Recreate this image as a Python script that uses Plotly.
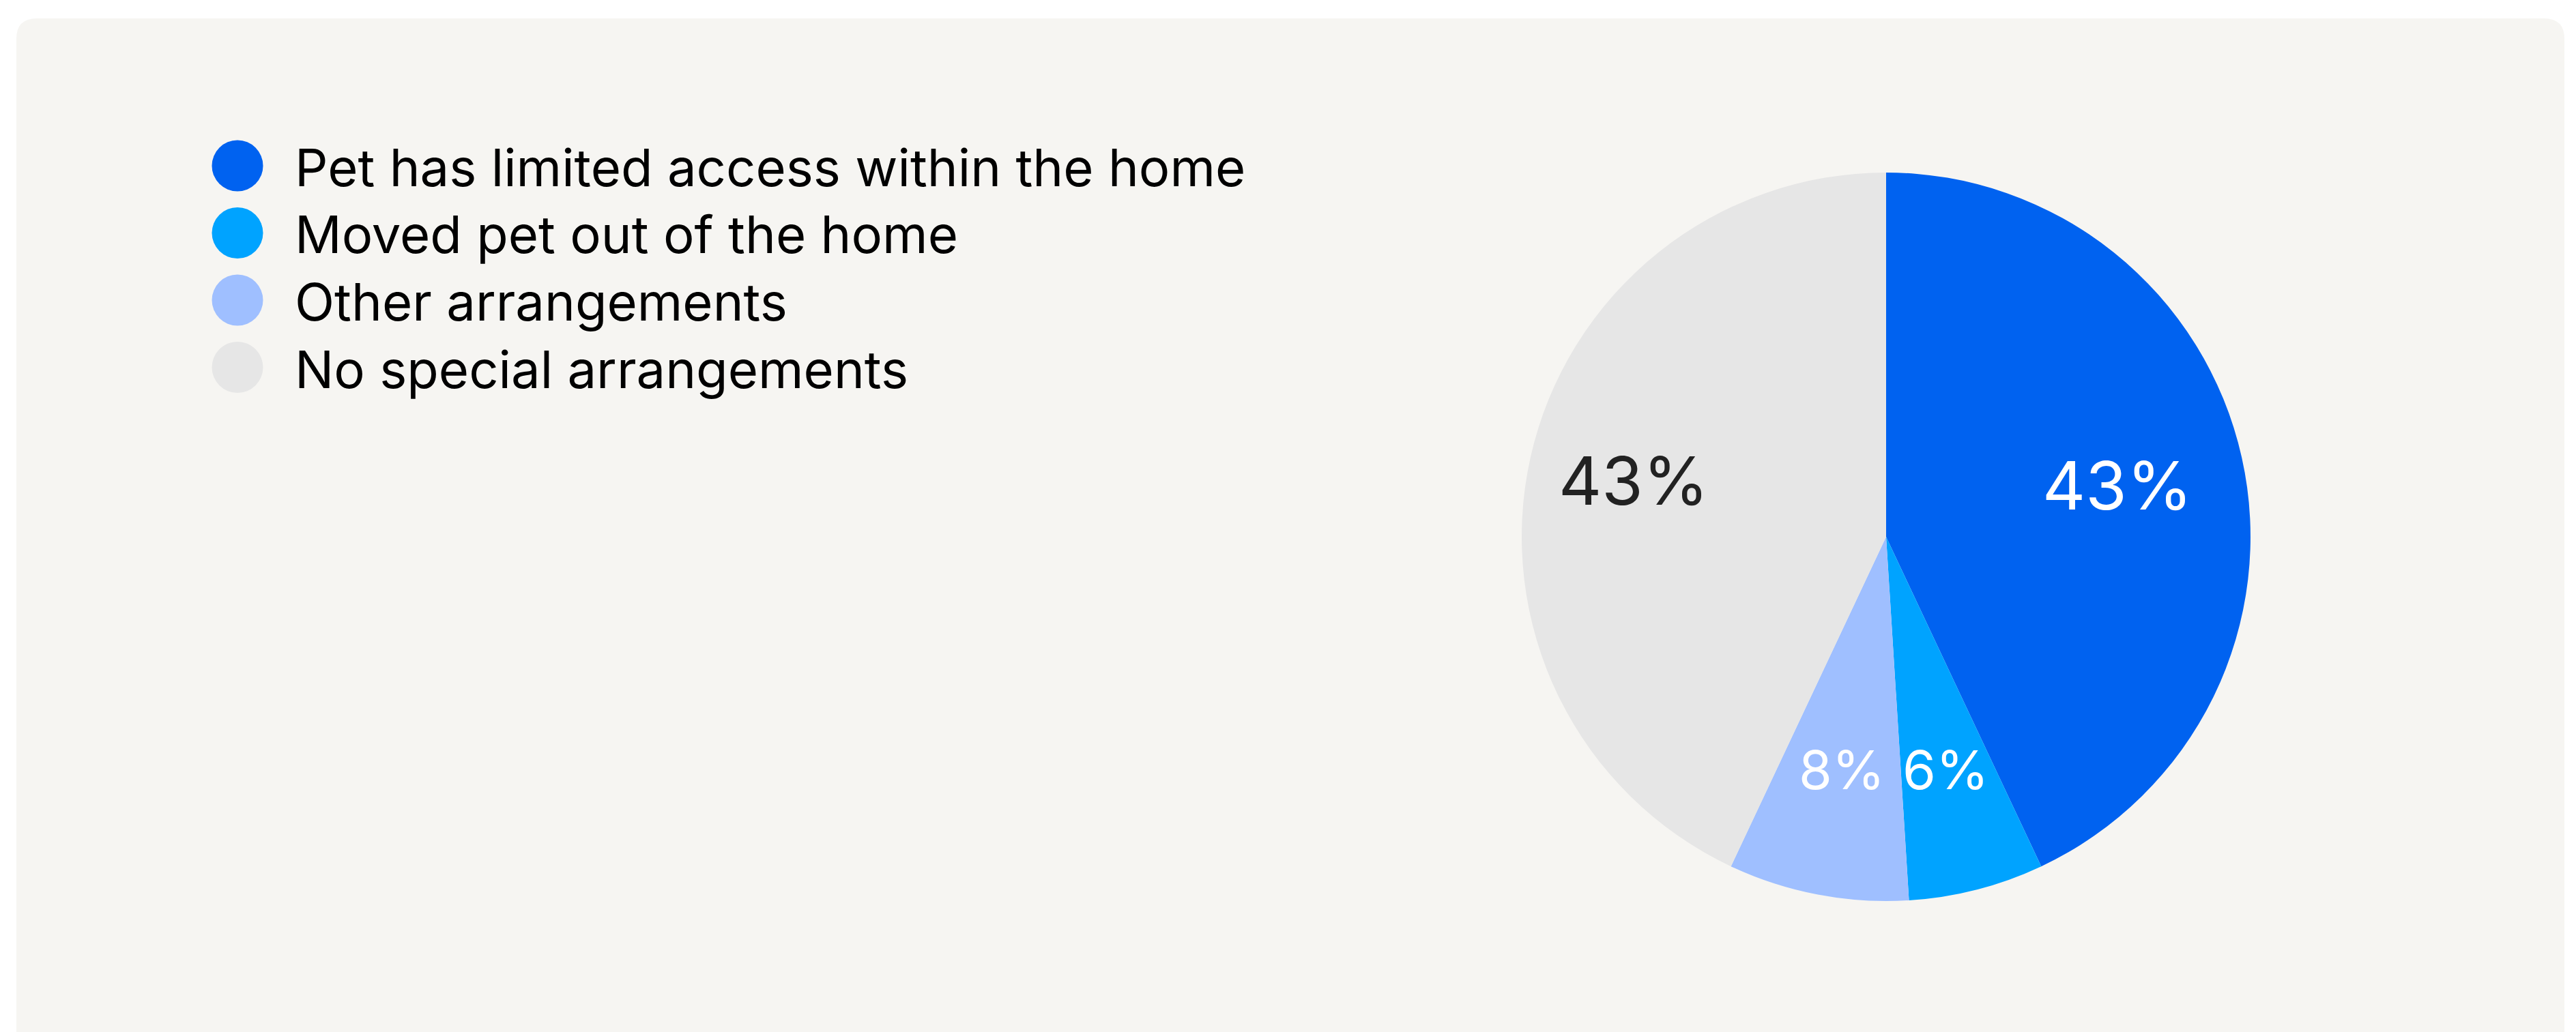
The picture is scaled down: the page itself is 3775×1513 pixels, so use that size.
import math
import plotly.graph_objects as go

categories = ["Pet has limited access within the home", "Moved pet out of the home",
              "Other arrangements", "No special arrangements"]
values = [43, 6, 8, 43]
colors = ["#0062F0", "#00A3FF", "#9FBFFF", "#E6E6E6"]
label_colors = ["#FFFFFF", "#FFFFFF", "#FFFFFF", "#222222"]
label_sizes = [98, 79, 79, 98]
label_radius = [0.65, 0.66, 0.65, 0.71]

W, H = 3775, 1513
OFF = 8  # default page body margin
FONT = "Inter"

def px_x(x):
    return (x - OFF) / W

def px_y(y):
    return 1 - (y - OFF) / H

fig = go.Figure()
cx, cy, R = 2764, 787, 534
fig.add_trace(go.Pie(
    labels=categories, values=values, sort=False, direction="clockwise", rotation=0,
    marker=dict(colors=colors, line=dict(width=0)),
    textinfo="none",
    domain=dict(x=[px_x(cx - R), px_x(cx + R)], y=[px_y(cy + R), px_y(cy - R)]),
    showlegend=False, hoverinfo="label+value",
))

shapes = []
# rounded panel background
x0, x1, y0, y1, r = 24, 3758, 27, 1540, 30
rx, ry = r / W, r / H
path = (f"M {px_x(x0)},{px_y(y1)} L {px_x(x0)},{px_y(y0)-ry} "
        f"Q {px_x(x0)},{px_y(y0)} {px_x(x0)+rx},{px_y(y0)} "
        f"L {px_x(x1)-rx},{px_y(y0)} Q {px_x(x1)},{px_y(y0)} {px_x(x1)},{px_y(y0)-ry} "
        f"L {px_x(x1)},{px_y(y1)} Z")
shapes.append(dict(type="path", xref="paper", yref="paper", path=path,
                   fillcolor="#F6F5F2", line=dict(width=0), layer="below"))

annotations = []
# legend
lx, ly0, dy, d = 348, 243, 98.5, 75
for i, (cat, col) in enumerate(zip(categories, colors)):
    yc = ly0 + i * dy
    shapes.append(dict(type="circle", xref="paper", yref="paper",
                       x0=px_x(lx - d / 2), x1=px_x(lx + d / 2),
                       y0=px_y(yc + d / 2), y1=px_y(yc - d / 2),
                       fillcolor=col, line=dict(width=0)))
    annotations.append(dict(xref="paper", yref="paper", x=px_x(430), y=px_y(yc + 2),
                            xanchor="left", yanchor="middle", showarrow=False, text=cat,
                            font=dict(family=FONT, size=76, color="#000000")))

# slice value labels, placed at each slice's mid-angle
total = sum(values)
cum = 0
for v, c, s, rf in zip(values, label_colors, label_sizes, label_radius):
    theta = 2 * math.pi * (cum + v / 2) / total
    cum += v
    tx = cx + rf * R * math.sin(theta)
    ty = cy - rf * R * math.cos(theta)
    annotations.append(dict(xref="paper", yref="paper", x=px_x(tx), y=px_y(ty),
                            xanchor="center", yanchor="middle", showarrow=False,
                            text=f"{v}%", font=dict(family=FONT, size=s, color=c)))

fig.update_layout(
    width=W, height=H, margin=dict(l=0, r=0, t=0, b=0),
    paper_bgcolor="#FFFFFF", plot_bgcolor="#FFFFFF",
    shapes=shapes, annotations=annotations,
    font=dict(family=FONT),
)
fig.write_html("out.html")
